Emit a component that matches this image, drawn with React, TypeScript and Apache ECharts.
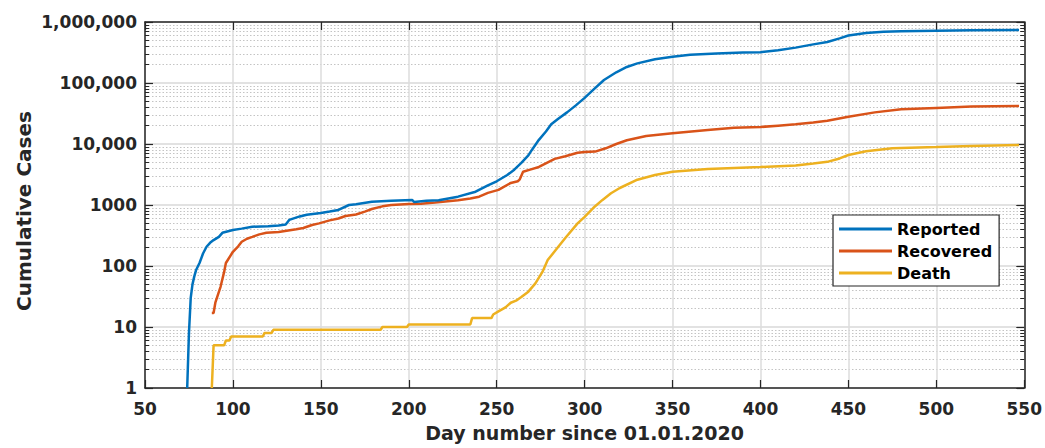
import React, { useEffect, useRef } from "react";
import * as echarts from "echarts";

const reportedDays = [74, 75, 76, 77, 78, 79, 81, 83, 85, 87, 89, 92, 94, 100, 105, 111, 120, 126, 130, 132, 138, 142, 150, 155, 160, 166, 170, 179, 190, 198, 202, 203, 210, 217, 228, 238, 245, 250, 256, 260, 264, 268, 270, 274, 278, 281, 285, 290, 295, 300, 305, 311, 318, 324, 330, 340, 350, 360, 375, 390, 400, 410, 420, 430, 438, 445, 450, 460, 470, 480, 500, 520, 547];
const reportedVals = [1, 8, 30, 50, 67, 85, 112, 160, 207, 240, 266, 300, 350, 390, 410, 440, 450, 460, 480, 570, 650, 690, 740, 780, 830, 1000, 1030, 1130, 1170, 1200, 1210, 1120, 1170, 1200, 1370, 1650, 2100, 2450, 3100, 3800, 4900, 6500, 8000, 11700, 16000, 21000, 26000, 33000, 43000, 57000, 78000, 112000, 150000, 183000, 210000, 245000, 270000, 290000, 305000, 315000, 320000, 345000, 380000, 430000, 470000, 540000, 600000, 660000, 690000, 705000, 720000, 730000, 740000];

const recoveredDays = [88, 89, 90, 93, 95, 96, 100, 103, 105, 108, 111, 115, 119, 126, 136, 140, 145, 149, 155, 160, 164, 170, 175, 179, 185, 190, 200, 207, 215, 228, 235, 240, 245, 251, 258, 262, 263, 265, 269, 274, 283, 289, 296, 300, 306, 312, 318, 324, 335, 350, 370, 385, 400, 410, 420, 430, 438, 450, 465, 480, 500, 520, 547];
const recoveredVals = [17, 17, 25, 46, 80, 112, 171, 210, 250, 280, 300, 330, 350, 360, 400, 420, 470, 500, 560, 600, 660, 700, 780, 860, 950, 1000, 1040, 1050, 1100, 1200, 1280, 1370, 1580, 1770, 2300, 2450, 2600, 3500, 3800, 4200, 5700, 6300, 7200, 7400, 7500, 8500, 10000, 11500, 13500, 15000, 17000, 18500, 19000, 20000, 21000, 22500, 24000, 28000, 33000, 37000, 39000, 41000, 42000];

const deathDays = [88, 89, 95, 96, 98, 99, 117, 118, 122, 123, 184, 185, 199, 200, 235, 236, 247, 248, 251, 255, 258, 261, 264, 268, 272, 276, 279, 284, 289, 296, 300, 305, 310, 315, 320, 330, 340, 350, 370, 400, 420, 430, 438, 445, 450, 460, 475, 500, 520, 547];
const deathVals = [1, 5, 5, 6, 6, 7, 7, 8, 8, 9, 9, 10, 10, 11, 11, 14, 14, 16, 18, 21, 25, 27, 31, 38, 52, 80, 125, 190, 287, 500, 640, 900, 1200, 1560, 1900, 2600, 3100, 3500, 3900, 4200, 4450, 4800, 5100, 5800, 6600, 7600, 8500, 8900, 9300, 9600];

const seriesNames = ["Reported", "Recovered", "Death"];
const seriesColors = ["#0072BD", "#D95319", "#EDB120"];

const yTickValues = [1, 10, 100, 1000, 10000, 100000, 1000000];
const yTickLabels = ["1", "10", "100", "1000", "10,000", "100,000", "1,000,000"];
const yTitle = "Cumulative Cases";
const xTitle = "Day number since 01.01.2020";

const FONT = "'DejaVu Sans', 'Liberation Sans', Arial, sans-serif";
const TXT = "#262626";

function zip(days: number[], vals: number[]) {
  return days.map((d, i) => [d, vals[i]]);
}

export default function App() {
  const ref = useRef<HTMLDivElement>(null);
  useEffect(() => {
    document.body.style.margin = "0";
    if (!ref.current) return;
    const chart = echarts.init(ref.current, null, { renderer: "svg" });
    const axisLine = { show: true, lineStyle: { color: TXT, width: 1.5 } };
    const yLabel = (v: number) => {
      const idx = yTickValues.findIndex((t) => Math.abs(t - v) / t < 1e-6);
      return idx >= 0 ? yTickLabels[idx] : "";
    };
    const yCommon: any = {
      type: "log",
      logBase: 10,
      min: 1,
      max: 1000000,
      interval: 1,
      axisLine,
      axisTick: { show: true, inside: true, length: 8, lineStyle: { color: TXT, width: 1.2 } },
      minorTick: { show: true, splitNumber: 9, length: 4, lineStyle: { color: TXT, width: 1 } },
    };
    const datasets = [zip(reportedDays, reportedVals), zip(recoveredDays, recoveredVals), zip(deathDays, deathVals)];
    chart.setOption({
      animation: false,
      backgroundColor: "#ffffff",
      grid: { left: 145, right: 17, top: 22, bottom: 60, containLabel: false },
      graphic: [
        {
          type: "text",
          x: 24,
          y: 211,
          rotation: Math.PI / 2,
          style: {
            text: yTitle,
            fontFamily: FONT,
            fontWeight: "bold",
            fontSize: 20,
            fill: TXT,
            align: "center",
            verticalAlign: "middle",
          },
        },
      ],
      legend: {
        orient: "vertical",
        left: 833,
        top: 215,
        data: seriesNames.map((n) => ({ name: n, icon: "rect" })),
        itemWidth: 53,
        itemHeight: 3,
        itemGap: 6,
        padding: [6, 7, 5, 6],
        backgroundColor: "#ffffff",
        borderColor: TXT,
        borderWidth: 1.2,
        borderRadius: 0,
        textStyle: { fontFamily: FONT, fontWeight: "bold", fontSize: 16, color: "#000", lineHeight: 16 },
      },
      xAxis: [
        {
          type: "value",
          min: 50,
          max: 550,
          interval: 50,
          position: "bottom",
          axisLine,
          axisTick: { show: true, inside: true, length: 8, lineStyle: { color: TXT, width: 1.2 } },
          axisLabel: { fontFamily: FONT, fontWeight: "bold", fontSize: 17, color: TXT, margin: 12 },
          splitLine: { show: true, lineStyle: { color: "#dcdcdc", width: 1.5 } },
          name: xTitle,
          nameLocation: "middle",
          nameGap: 35,
          nameTextStyle: { fontFamily: FONT, fontWeight: "bold", fontSize: 19, color: TXT },
        },
        {
          type: "value",
          min: 50,
          max: 550,
          interval: 50,
          position: "top",
          axisLine,
          axisTick: { show: true, inside: true, length: 8, lineStyle: { color: TXT, width: 1.2 } },
          axisLabel: { show: false },
          splitLine: { show: false },
        },
      ],
      yAxis: [
        {
          ...yCommon,
          position: "left",
          axisLabel: { fontFamily: FONT, fontWeight: "bold", fontSize: 17, color: TXT, margin: 8, formatter: yLabel },
          splitLine: { show: true, lineStyle: { color: "#d9d9d9", width: 1.5 } },
          minorSplitLine: { show: true, lineStyle: { color: "#c4c4c4", width: 1, type: [1.5, 2] } },
        },
        {
          ...yCommon,
          position: "right",
          axisLabel: { show: false },
          splitLine: { show: false },
          minorSplitLine: { show: false },
        },
      ],
      series: datasets.map((d, i) => ({
        name: seriesNames[i],
        type: "line",
        xAxisIndex: 0,
        yAxisIndex: 0,
        data: d,
        symbol: "none",
        showSymbol: false,
        smooth: false,
        color: seriesColors[i],
        itemStyle: { color: seriesColors[i] },
        lineStyle: { color: seriesColors[i], width: 2.5 },
        z: 3 + (2 - i),
      })),
    });
    return () => chart.dispose();
  }, []);
  return <div ref={ref} style={{ width: 1045, height: 448 }} />;
}
